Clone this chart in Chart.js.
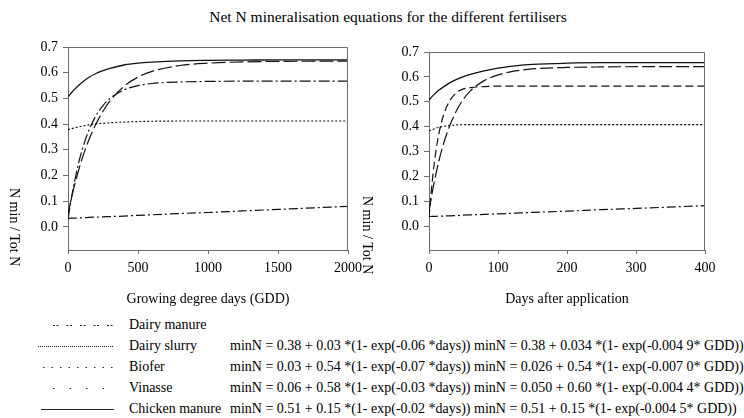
<!DOCTYPE html>
<html>
<head>
<meta charset="utf-8">
<script src="https://cdn.jsdelivr.net/npm/chart.js@4.4.0/dist/chart.umd.min.js"></script>
<style>
  body { margin: 0; background: #fff; font-family: "Liberation Serif", "Times New Roman", serif; color: #000; }
  #wrap { position: relative; width: 744px; height: 418px; overflow: hidden; }
  #title { position: absolute; top: 8px; left: 16px; width: 744px; text-align: center; font-size: 15.5px; white-space: nowrap; }
  canvas { position: absolute; top: 0; }
  .row { position: absolute; left: 0; width: 744px; height: 20px; font-size: 14px; line-height: 20px; white-space: nowrap; }
  .row svg { position: absolute; left: 0; top: 0; }
  .name { position: absolute; left: 129px; }
  .eq1 { position: absolute; left: 230px; }
  .eq2 { position: absolute; left: 474px; }
</style>
</head>
<body>
<div id="wrap">
  <div id="title">Net N mineralisation equations for the different fertilisers</div>
  <canvas id="gdd" width="372" height="312" style="left:0"></canvas>
  <canvas id="days" width="389" height="312" style="left:355px"></canvas>
  <div id="legend"></div>
</div>
<script>
// names and equations
const fertilisers = ['Dairy manure', 'Dairy slurry', 'Biofer', 'Vinasse', 'Chicken manure'];
const eqDays = ['',
  'minN = 0.38 + 0.03 *(1- exp(-0.06 *days))',
  'minN = 0.03 + 0.54 *(1- exp(-0.07 *days))',
  'minN = 0.06 + 0.58 *(1- exp(-0.03 *days))',
  'minN = 0.51 + 0.15 *(1- exp(-0.02 *days))'];
const eqGdd = ['',
  'minN = 0.38 + 0.034 *(1- exp(-0.004 9* GDD))',
  'minN = 0.026 + 0.54 *(1- exp(-0.007 0* GDD))',
  'minN = 0.050 + 0.60 *(1- exp(-0.004 4* GDD))',
  'minN = 0.51 + 0.15 *(1- exp(-0.004 5* GDD))'];

// left panel, growing degree days
const gdd = [0, 25, 50, 75, 100, 150, 200, 250, 300, 400, 500, 600, 800, 1000, 1250, 1500, 2000];
const gddDairyManure = [0.033, 0.034, 0.034, 0.035, 0.035, 0.037, 0.038, 0.039, 0.040, 0.042, 0.045, 0.047, 0.052, 0.056, 0.062, 0.068, 0.080];
const gddDairySlurry = [0.378, 0.382, 0.386, 0.389, 0.392, 0.397, 0.401, 0.403, 0.405, 0.408, 0.410, 0.411, 0.412, 0.412, 0.412, 0.412, 0.412];
const gddBiofer = [0.03, 0.113, 0.185, 0.247, 0.298, 0.377, 0.433, 0.472, 0.500, 0.533, 0.550, 0.558, 0.564, 0.566, 0.567, 0.567, 0.567];
const gddVinasse = [0.05, 0.113, 0.169, 0.219, 0.264, 0.340, 0.401, 0.450, 0.490, 0.547, 0.583, 0.605, 0.628, 0.637, 0.642, 0.644, 0.645];
const gddChicken = [0.506, 0.522, 0.537, 0.550, 0.562, 0.582, 0.597, 0.608, 0.617, 0.630, 0.637, 0.641, 0.646, 0.648, 0.649, 0.650, 0.650];

// right panel, days after application
const days = [0, 5, 10, 15, 20, 25, 30, 40, 50, 60, 80, 100, 125, 150, 200, 250, 300, 400];
const dayDairyManure = [0.039, 0.040, 0.040, 0.041, 0.041, 0.042, 0.042, 0.043, 0.045, 0.046, 0.048, 0.050, 0.053, 0.056, 0.061, 0.067, 0.072, 0.083];
const dayDairySlurry = [0.383, 0.388, 0.394, 0.398, 0.401, 0.403, 0.405, 0.407, 0.408, 0.408, 0.408, 0.408, 0.408, 0.408, 0.408, 0.408, 0.408, 0.408];
const dayBiofer = [0.035, 0.189, 0.302, 0.381, 0.437, 0.476, 0.504, 0.537, 0.552, 0.557, 0.561, 0.563, 0.563, 0.563, 0.563, 0.563, 0.563, 0.563];
const dayVinasse = [0.06, 0.141, 0.210, 0.270, 0.322, 0.366, 0.404, 0.465, 0.511, 0.544, 0.585, 0.608, 0.624, 0.632, 0.638, 0.640, 0.641, 0.641];
const dayChicken = [0.507, 0.523, 0.536, 0.548, 0.558, 0.567, 0.576, 0.590, 0.601, 0.610, 0.624, 0.635, 0.644, 0.650, 0.655, 0.657, 0.657, 0.657];

const yTicks = [0, 0.1, 0.2, 0.3, 0.4, 0.5, 0.6, 0.7];
const axisColor = '#6e6e6e';
const serif = '"Liberation Serif", "Times New Roman", serif';

function pts(xs, ys) {
  return xs.map((x, i) => ({x: x, y: ys[i]}));
}

function line(xs, ys, dash, width) {
  return {
    data: pts(xs, ys),
    borderColor: '#111',
    borderWidth: width || 1.2,
    borderDash: dash,
    pointRadius: 0,
    fill: false,
    cubicInterpolationMode: 'monotone'
  };
}

// top/right box edges plus the rotated "N min / Tot N" label
const frame = {
  id: 'frame',
  afterDraw(chart, args, opts) {
    const ctx = chart.ctx, a = chart.chartArea;
    ctx.save();
    ctx.strokeStyle = axisColor;
    ctx.lineWidth = 1;
    ctx.beginPath();
    ctx.moveTo(a.left, a.top + 0.5);
    ctx.lineTo(a.right - 0.5, a.top + 0.5);
    ctx.lineTo(a.right - 0.5, a.bottom);
    ctx.stroke();
    ctx.translate(opts.x, opts.y);
    ctx.rotate(Math.PI / 2);
    ctx.font = '14px ' + serif;
    ctx.fillStyle = '#000';
    ctx.textBaseline = 'middle';
    ctx.textAlign = 'left';
    ctx.fillText('N min / Tot N', 0, 0);
    ctx.restore();
  }
};

function makeChart(id, datasets, xMax, xStep, xTitle, yMin, pad, yWidth, titleX, titleY) {
  return new Chart(document.getElementById(id), {
    type: 'line',
    data: {datasets: datasets},
    plugins: [frame],
    options: {
      responsive: false,
      animation: false,
      layout: {padding: pad},
      plugins: {
        legend: {display: false},
        tooltip: {enabled: false},
        frame: {x: titleX, y: titleY}
      },
      scales: {
        x: {
          type: 'linear',
          min: 0, max: xMax,
          ticks: {stepSize: xStep, color: '#000', font: {family: serif, size: 14}, padding: 6, maxRotation: 0, callback: v => String(v)},
          grid: {drawOnChartArea: false, color: axisColor, tickLength: 4},
          border: {color: axisColor},
          title: {display: true, text: xTitle, color: '#000', font: {family: serif, size: 14}, padding: {top: 2, bottom: 4}},
          afterFit: s => { s.height = 62; }
        },
        y: {
          min: yMin, max: 0.7,
          afterBuildTicks: s => { s.ticks = yTicks.map(v => ({value: v})); },
          ticks: {color: '#000', font: {family: serif, size: 14}, padding: 5, callback: v => v.toFixed(1)},
          grid: {drawOnChartArea: false, color: axisColor, tickLength: 5},
          border: {color: axisColor},
          afterFit: s => { s.width = yWidth; }
        }
      }
    }
  });
}

makeChart('gdd', [
  line(gdd, gddDairyManure, [9, 3, 2, 3]),
  line(gdd, gddDairySlurry, [2, 2]),
  line(gdd, gddBiofer, [11, 3, 2, 3]),
  line(gdd, gddVinasse, [14, 4]),
  line(gdd, gddChicken, [], 1.3)
], 2000, 500, 'Growing degree days (GDD)', -0.09, {left: 0, right: 24, top: 47, bottom: 0}, 68, 14, 188);

makeChart('days', [
  line(days, dayDairyManure, [9, 3, 2, 3]),
  line(days, dayDairySlurry, [2, 2]),
  line(days, dayBiofer, [8, 4]),
  line(days, dayVinasse, [13, 4]),
  line(days, dayChicken, [], 1.3)
], 400, 100, 'Days after application', -0.095, {left: 0, right: 39, top: 52, bottom: 0}, 74, 12, 196);

// legend rows
const sampleDash = ['2 1.5 2 8', '1 1', '1.5 7', '1.5 15', ''];
const sampleFrom = [53, 38, 43, 53, 41];
const sampleTo = [115, 113, 113, 108, 114];
const rowY = [315, 336, 357, 378, 399];
const legend = document.getElementById('legend');
fertilisers.forEach((name, i) => {
  const row = document.createElement('div');
  row.className = 'row';
  row.style.top = rowY[i] + 'px';
  row.innerHTML =
    '<svg width="129" height="20"><line x1="' + sampleFrom[i] + '" y1="10.5" x2="' + sampleTo[i] +
    '" y2="10.5" stroke="#222" stroke-width="1" stroke-dasharray="' + sampleDash[i] + '"/></svg>' +
    '<span class="name">' + name + '</span>' +
    '<span class="eq1">' + eqDays[i] + '</span>' +
    '<span class="eq2">' + eqGdd[i] + '</span>';
  legend.appendChild(row);
});
</script>
</body>
</html>
